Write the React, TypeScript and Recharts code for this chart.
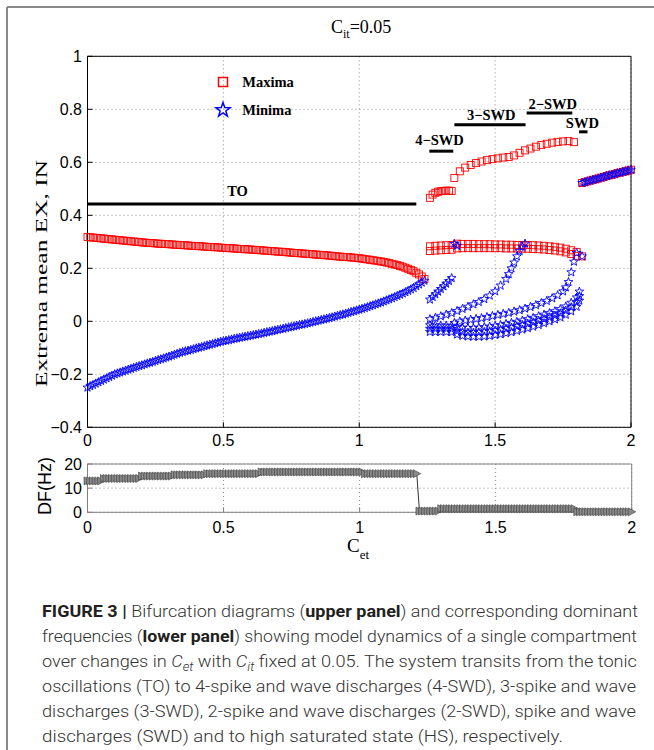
import React from 'react';
import {
  ScatterChart,
  Scatter,
  LineChart,
  Line,
  XAxis,
  YAxis,
  CartesianGrid,
  ReferenceLine,
  Legend,
} from 'recharts';

// ---------------- data ----------------
const xTicks = [0, 0.5, 1, 1.5, 2];
const yTicksTop = [-0.4, -0.2, 0, 0.2, 0.4, 0.6, 0.8, 1];
const yTicksDF = [0, 10, 20];

// tonic oscillations (TO)
const toX = [
  0, 0.01, 0.02, 0.03, 0.04, 0.05, 0.06, 0.07, 0.08, 0.09,
  0.1, 0.11, 0.12, 0.13, 0.14, 0.15, 0.16, 0.17, 0.18, 0.19,
  0.2, 0.21, 0.22, 0.23, 0.24, 0.25, 0.26, 0.27, 0.28, 0.29,
  0.3, 0.31, 0.32, 0.33, 0.34, 0.35, 0.36, 0.37, 0.38, 0.39,
  0.4, 0.41, 0.42, 0.43, 0.44, 0.45, 0.46, 0.47, 0.48, 0.49,
  0.5, 0.51, 0.52, 0.53, 0.54, 0.55, 0.56, 0.57, 0.58, 0.59,
  0.6, 0.61, 0.62, 0.63, 0.64, 0.65, 0.66, 0.67, 0.68, 0.69,
  0.7, 0.71, 0.72, 0.73, 0.74, 0.75, 0.76, 0.77, 0.78, 0.79,
  0.8, 0.81, 0.82, 0.83, 0.84, 0.85, 0.86, 0.87, 0.88, 0.89,
  0.9, 0.91, 0.92, 0.93, 0.94, 0.95, 0.96, 0.97, 0.98, 0.99,
  1, 1.01, 1.02, 1.03, 1.04, 1.05, 1.06, 1.07, 1.08, 1.09,
  1.1, 1.11, 1.12, 1.13, 1.14, 1.15, 1.16, 1.17, 1.18, 1.19,
  1.2, 1.21, 1.22, 1.23, 1.24,
];
const toMaxima = [
  0.318, 0.317, 0.316, 0.315, 0.314, 0.313, 0.312, 0.311, 0.31, 0.309,
  0.308, 0.307, 0.306, 0.305, 0.304, 0.303, 0.302, 0.301, 0.3, 0.299,
  0.298, 0.297, 0.296, 0.2955, 0.295, 0.294, 0.293, 0.2925, 0.292, 0.2915,
  0.291, 0.29, 0.289, 0.2885, 0.288, 0.2875, 0.287, 0.286, 0.285, 0.2845,
  0.284, 0.2835, 0.283, 0.282, 0.281, 0.2805, 0.28, 0.2795, 0.279, 0.278,
  0.277, 0.2765, 0.276, 0.2755, 0.275, 0.274, 0.273, 0.2725, 0.272, 0.2715,
  0.271, 0.27, 0.269, 0.2685, 0.268, 0.267, 0.266, 0.2655, 0.265, 0.264,
  0.263, 0.2625, 0.262, 0.261, 0.26, 0.259, 0.258, 0.2575, 0.257, 0.256,
  0.255, 0.2545, 0.254, 0.253, 0.252, 0.251, 0.25, 0.2495, 0.249, 0.248,
  0.247, 0.246, 0.245, 0.244, 0.243, 0.2425, 0.242, 0.241, 0.24, 0.239,
  0.238, 0.2365, 0.235, 0.2335, 0.232, 0.2305, 0.229, 0.2275, 0.226, 0.224,
  0.222, 0.2195, 0.217, 0.2145, 0.212, 0.209, 0.206, 0.202, 0.198, 0.1935,
  0.189, 0.183, 0.177, 0.169, 0.16,
];
const toMinima = [
  -0.25, -0.245, -0.24, -0.235, -0.23, -0.225, -0.22, -0.215, -0.21, -0.205,
  -0.2, -0.1965, -0.193, -0.1895, -0.186, -0.1825, -0.179, -0.1755, -0.172, -0.169,
  -0.166, -0.1625, -0.159, -0.156, -0.153, -0.1495, -0.146, -0.143, -0.14, -0.1365,
  -0.133, -0.1295, -0.126, -0.1225, -0.119, -0.116, -0.113, -0.1105, -0.108, -0.105,
  -0.102, -0.0995, -0.097, -0.094, -0.091, -0.0885, -0.086, -0.083, -0.08, -0.0775,
  -0.075, -0.073, -0.071, -0.0685, -0.066, -0.064, -0.062, -0.06, -0.058, -0.056,
  -0.054, -0.052, -0.05, -0.048, -0.046, -0.0435, -0.041, -0.039, -0.037, -0.0345,
  -0.032, -0.03, -0.028, -0.0255, -0.023, -0.021, -0.019, -0.0165, -0.014, -0.012,
  -0.01, -0.0075, -0.005, -0.0025, 0, 0.0025, 0.005, 0.0075, 0.01, 0.0125,
  0.015, 0.018, 0.021, 0.0235, 0.026, 0.029, 0.032, 0.035, 0.038, 0.041,
  0.044, 0.047, 0.05, 0.0535, 0.057, 0.0605, 0.064, 0.0675, 0.071, 0.075,
  0.079, 0.083, 0.087, 0.0915, 0.096, 0.1005, 0.105, 0.11, 0.115, 0.1205,
  0.126, 0.1325, 0.139, 0.146, 0.153,
];

// SWD regimes: shared x grid for the dense bands
const postX = [1.26, 1.28, 1.3, 1.32, 1.34, 1.36, 1.38, 1.4, 1.42, 1.44, 1.46, 1.48, 1.5, 1.52, 1.54, 1.56, 1.58, 1.6, 1.62, 1.64, 1.66, 1.68, 1.7, 1.72, 1.74, 1.76, 1.78, 1.8];
const maxBandUpper = [0.283, 0.285, 0.286, 0.287, 0.288, 0.293, 0.292, 0.292, 0.292, 0.291, 0.291, 0.291, 0.29, 0.29, 0.289, 0.289, 0.288, 0.288, 0.288, 0.287, 0.286, 0.285, 0.283, 0.281, 0.278, 0.274, 0.268, 0.262];
const maxBandLower = [0.265, 0.267, 0.268, 0.269, 0.27, 0.275, 0.276, 0.276, 0.276, 0.276, 0.276, 0.276, 0.276, 0.276, 0.275, 0.275, 0.275, 0.274, 0.274, 0.273, 0.272, 0.271, 0.269, 0.267, 0.264, 0.26, 0.254, 0.247];
const minBand1 = [-0.015, -0.015, -0.016, -0.016, -0.017, -0.022, -0.024, -0.025, -0.025, -0.024, -0.022, -0.02, -0.017, -0.014, -0.01, -0.006, -0.002, 0.003, 0.008, 0.013, 0.019, 0.025, 0.031, 0.038, 0.046, 0.056, 0.07, 0.09];
const minBand2 = [-0.028, -0.028, -0.028, -0.028, -0.029, -0.037, -0.041, -0.043, -0.043, -0.042, -0.04, -0.038, -0.035, -0.032, -0.028, -0.024, -0.019, -0.014, -0.009, -0.004, 0.002, 0.008, 0.015, 0.022, 0.03, 0.04, 0.053, 0.072];
const minBand3 = [-0.04, -0.04, -0.04, -0.04, -0.041, -0.05, -0.055, -0.057, -0.058, -0.058, -0.057, -0.055, -0.052, -0.049, -0.045, -0.041, -0.036, -0.031, -0.026, -0.02, -0.014, -0.007, 0, 0.007, 0.015, 0.025, 0.038, 0.055];

// upper maxima branches
const max4X = [1.26, 1.27, 1.28, 1.29, 1.3, 1.31, 1.32, 1.33, 1.34];
const max4Y = [0.466, 0.478, 0.485, 0.489, 0.491, 0.492, 0.493, 0.493, 0.492];
const max32X = [1.35, 1.37, 1.39, 1.41, 1.43, 1.45, 1.47, 1.49, 1.51, 1.53, 1.55, 1.57, 1.59, 1.61, 1.63, 1.65, 1.67, 1.69, 1.71, 1.73, 1.75, 1.77, 1.79];
const max32Y = [0.541, 0.566, 0.58, 0.59, 0.597, 0.603, 0.608, 0.612, 0.615, 0.618, 0.62, 0.626, 0.636, 0.645, 0.652, 0.659, 0.665, 0.67, 0.674, 0.677, 0.679, 0.68, 0.676];
const maxExtraX = [1.82];
const maxExtraY = [0.245];

// rising minima arcs
const arcAX = [1.26, 1.27, 1.28, 1.29, 1.3, 1.31, 1.32, 1.33, 1.34];
const arcAY = [0.082, 0.092, 0.102, 0.112, 0.122, 0.132, 0.142, 0.152, 0.163];
const arcBX = [1.26, 1.28, 1.3, 1.32, 1.34, 1.36, 1.38, 1.4, 1.42, 1.44, 1.46, 1.48, 1.5, 1.52, 1.54, 1.55, 1.56, 1.57, 1.58, 1.59, 1.6, 1.61];
const arcBY = [0.008, 0.013, 0.019, 0.025, 0.031, 0.039, 0.047, 0.055, 0.064, 0.073, 0.084, 0.097, 0.113, 0.135, 0.16, 0.178, 0.2, 0.222, 0.245, 0.265, 0.282, 0.293];
const arcCX = [1.35, 1.37, 1.39, 1.41, 1.43, 1.45, 1.47, 1.49, 1.51, 1.53, 1.55, 1.57, 1.59, 1.61, 1.63, 1.65, 1.67, 1.69, 1.71, 1.73, 1.75, 1.76, 1.77, 1.78, 1.79, 1.8];
const arcCY = [-0.006, -0.001, 0.003, 0.006, 0.009, 0.012, 0.016, 0.02, 0.024, 0.028, 0.032, 0.037, 0.042, 0.048, 0.054, 0.061, 0.069, 0.077, 0.087, 0.098, 0.113, 0.128, 0.148, 0.185, 0.225, 0.258];
const minExtraX = [1.35, 1.36, 1.81, 1.81, 1.81, 1.82];
const minExtraY = [0.292, 0.285, 0.112, 0.095, 0.078, 0.245];

// high saturated state (maxima = minima)
const hsX = [1.82, 1.83, 1.84, 1.85, 1.86, 1.87, 1.88, 1.89, 1.9, 1.91, 1.92, 1.93, 1.94, 1.95, 1.96, 1.97, 1.98, 1.99, 2];
const hsY = [0.522, 0.525, 0.528, 0.531, 0.534, 0.536, 0.539, 0.542, 0.545, 0.548, 0.551, 0.553, 0.556, 0.559, 0.561, 0.564, 0.566, 0.569, 0.572];

// regime bars and their labels
const segNames = ['TO', '4\u2212SWD', '3\u2212SWD', '2\u2212SWD', 'SWD'];
const segStart = [0, 1.258, 1.35, 1.616, 1.809];
const segEnd = [1.21, 1.346, 1.612, 1.784, 1.84];
const segY = [0.443, 0.642, 0.742, 0.786, 0.715];
const segLabelX = [0.552, 1.295, 1.486, 1.712, 1.821];
const segLabelY = [0.49, 0.686, 0.78, 0.82, 0.747];

const legendNames = ['Maxima', 'Minima'];

// dominant frequency (lower panel)
const dfX = [
  0, 0.01, 0.02, 0.03, 0.04, 0.05, 0.06, 0.07, 0.08, 0.09,
  0.1, 0.11, 0.12, 0.13, 0.14, 0.15, 0.16, 0.17, 0.18, 0.19,
  0.2, 0.21, 0.22, 0.23, 0.24, 0.25, 0.26, 0.27, 0.28, 0.29,
  0.3, 0.31, 0.32, 0.33, 0.34, 0.35, 0.36, 0.37, 0.38, 0.39,
  0.4, 0.41, 0.42, 0.43, 0.44, 0.45, 0.46, 0.47, 0.48, 0.49,
  0.5, 0.51, 0.52, 0.53, 0.54, 0.55, 0.56, 0.57, 0.58, 0.59,
  0.6, 0.61, 0.62, 0.63, 0.64, 0.65, 0.66, 0.67, 0.68, 0.69,
  0.7, 0.71, 0.72, 0.73, 0.74, 0.75, 0.76, 0.77, 0.78, 0.79,
  0.8, 0.81, 0.82, 0.83, 0.84, 0.85, 0.86, 0.87, 0.88, 0.89,
  0.9, 0.91, 0.92, 0.93, 0.94, 0.95, 0.96, 0.97, 0.98, 0.99,
  1, 1.01, 1.02, 1.03, 1.04, 1.05, 1.06, 1.07, 1.08, 1.09,
  1.1, 1.11, 1.12, 1.13, 1.14, 1.15, 1.16, 1.17, 1.18, 1.19,
  1.2, 1.21, 1.22, 1.23, 1.24, 1.25, 1.26, 1.27, 1.28, 1.29,
  1.3, 1.31, 1.32, 1.33, 1.34, 1.35, 1.36, 1.37, 1.38, 1.39,
  1.4, 1.41, 1.42, 1.43, 1.44, 1.45, 1.46, 1.47, 1.48, 1.49,
  1.5, 1.51, 1.52, 1.53, 1.54, 1.55, 1.56, 1.57, 1.58, 1.59,
  1.6, 1.61, 1.62, 1.63, 1.64, 1.65, 1.66, 1.67, 1.68, 1.69,
  1.7, 1.71, 1.72, 1.73, 1.74, 1.75, 1.76, 1.77, 1.78, 1.79,
  1.8, 1.81, 1.82, 1.83, 1.84, 1.85, 1.86, 1.87, 1.88, 1.89,
  1.9, 1.91, 1.92, 1.93, 1.94, 1.95, 1.96, 1.97, 1.98, 1.99,
  2,
];
const dfY = [
  13, 13, 13, 13, 13, 13, 14, 14, 14, 14,
  14, 14, 14, 14, 14, 14, 14, 14, 14, 14,
  15, 15, 15, 15, 15, 15, 15, 15, 15, 15,
  15, 15, 15.5, 15.5, 15.5, 15.5, 15.5, 15.5, 15.5, 15.5,
  15.5, 15.5, 15.5, 15.5, 16, 16, 16, 16, 16, 16,
  16, 16, 16, 16, 16, 16, 16, 16, 16, 16,
  16, 16, 16, 16, 16.7, 16.7, 16.7, 16.7, 16.7, 16.7,
  16.7, 16.7, 16.7, 16.7, 16.7, 16.7, 16.7, 16.7, 16.7, 16.7,
  16.7, 16.7, 16.7, 16.7, 16.7, 16.7, 16.7, 16.7, 16.7, 16.7,
  16.7, 16.7, 16.7, 16.7, 16.7, 16.7, 16.7, 16.7, 16.7, 16.7,
  16.7, 16.7, 16, 16, 16, 16, 16, 16, 16, 16,
  16, 16, 16, 16, 16, 16, 16, 16, 16, 16,
  16, 16, 0.5, 0.5, 0.5, 0.5, 0.5, 0.5, 0.5, 0.5,
  1.5, 1.5, 1.5, 1.5, 1.5, 1.5, 1.5, 1.5, 1.5, 1.5,
  1.5, 1.5, 1.5, 1.5, 1.5, 1.5, 1.5, 1.5, 1.5, 1.5,
  1.5, 1.5, 1.5, 1.5, 1.5, 1.5, 1.5, 1.5, 1.5, 1.5,
  1.5, 1.5, 1.5, 1.5, 1.5, 1.5, 1.5, 1.5, 1.5, 1.5,
  1.5, 1.5, 1.5, 1.5, 1.5, 1.5, 1.5, 1.5, 1.5, 1.5,
  0.2, 0.2, 0.2, 0.2, 0.2, 0.2, 0.2, 0.2, 0.2, 0.2,
  0.2, 0.2, 0.2, 0.2, 0.2, 0.2, 0.2, 0.2, 0.2, 0.2,
  0.2,
];

// ---------------- helpers ----------------
const SANS = '"Liberation Sans", Arial, Helvetica, sans-serif';
const SERIF = '"Liberation Serif", "Times New Roman", Times, serif';
const RED = '#ff0000';
const BLUE = '#0000ff';

const zip = (xs: number[], ys: number[]) => xs.map((x, i) => ({ x, y: ys[i] }));

const fmt = (v: number) => String(v).replace('-', '\u2212');

function starPath(cx: number, cy: number, R: number, r: number) {
  let d = '';
  for (let i = 0; i < 10; i++) {
    const rad = i % 2 === 0 ? R : r;
    const a = -Math.PI / 2 + (i * Math.PI) / 5;
    d += (i === 0 ? 'M' : 'L') + (cx + rad * Math.cos(a)).toFixed(2) + ',' + (cy + rad * Math.sin(a)).toFixed(2);
  }
  return d + 'Z';
}

const SquareShape = (p: any) => {
  if (p.cx == null || p.cy == null) return <g />;
  return <rect x={p.cx - 3.5} y={p.cy - 3.5} width={7} height={7} fill="none" stroke={RED} strokeWidth={0.9} />;
};
const StarShape = (p: any) => {
  if (p.cx == null || p.cy == null) return <g />;
  return <path d={starPath(p.cx, p.cy, 4.6, 1.9)} fill="none" stroke={BLUE} strokeWidth={0.9} />;
};
const SegLabelShape = (p: any) => {
  if (p.cx == null || p.cy == null) return <g />;
  return (
    <text x={p.cx} y={p.cy} textAnchor="middle" dominantBaseline="central" fontFamily={SERIF} fontWeight="bold" fontSize={14.5} fill="#000">
      {p.payload.label}
    </text>
  );
};
const TriDot = (p: any) => {
  if (p.cx == null || p.cy == null) return <g key={p.key} />;
  const { cx, cy } = p;
  return (
    <path key={p.key} d={`M${cx - 3.5},${cy - 4}L${cx + 4},${cy}L${cx - 3.5},${cy + 4}Z`} fill="#8a8a8a" stroke="#3a3a3a" strokeWidth={0.6} />
  );
};

const LegendBox = () => (
  <div style={{ width: 130 }}>
    {legendNames.map((n, i) => (
      <div key={n} style={{ display: 'flex', alignItems: 'center', height: 27.7 }}>
        <svg width={20} height={20} style={{ display: 'block' }}>
          {i === 0 ? (
            <rect x={5.5} y={5.5} width={9} height={9} fill="none" stroke={RED} strokeWidth={1.5} />
          ) : (
            <path d={starPath(10, 10, 7.5, 3)} fill="none" stroke={BLUE} strokeWidth={1.5} />
          )}
        </svg>
        <span style={{ marginLeft: 9.6, fontFamily: SERIF, fontWeight: 'bold', fontSize: 14.5, color: '#000' }}>{n}</span>
      </div>
    ))}
  </div>
);

const YLabelTop = () => (
  <text
    x={41}
    y={273.5}
    transform="rotate(-90 41 273.5)"
    textAnchor="middle"
    dominantBaseline="central"
    fontFamily={SERIF}
    fontSize={17.5}
    fill="#000"
    textLength={227}
    lengthAdjust="spacingAndGlyphs"
  >
    Extrema mean EX, IN
  </text>
);

const YLabelDF = () => (
  <text x={45} y={46} transform="rotate(-90 45 46)" textAnchor="middle" dominantBaseline="central" fontFamily={SANS} fontSize={18} fill="#000">
    DF(Hz)
  </text>
);

const XLabelDF = () => (
  <text x={347} y={112} fontFamily={SERIF} fill="#000">
    <tspan fontSize={19}>C</tspan>
    <tspan fontSize={13} dy={7}>et</tspan>
  </text>
);

const tickStyle = { fill: '#000', fontSize: 16, fontFamily: SANS };

export default function App() {
  const segLabelData = segNames.map((label, i) => ({ x: segLabelX[i], y: segLabelY[i], label }));
  const dfData = zip(dfX, dfY);

  return (
    <div style={{ position: 'absolute', left: 0, top: 0, width: 654, height: 750, background: '#fff', overflow: 'hidden' }}>
      <svg width={654} height={750} style={{ position: 'absolute', left: 0, top: 0 }}>
        <line x1={7} y1={7} x2={654} y2={7} stroke="#8a8a8a" strokeWidth={2} />
        <line x1={7} y1={7} x2={7} y2={750} stroke="#8a8a8a" strokeWidth={2} />
        <text x={331} y={33} fontFamily={SERIF} fill="#000">
          <tspan fontSize={18}>C</tspan>
          <tspan fontSize={12} dy={5}>it</tspan>
          <tspan fontSize={18} dy={-5}>=0.05</tspan>
        </text>
        <g fontFamily='Roboto, "Liberation Sans", Arial, sans-serif' fontSize={16.5} fill="#333333" fontWeight={300}>
          <text x={42} y={617} textLength={596} lengthAdjust="spacingAndGlyphs">
            <tspan fontWeight={700} fill="#231f20">FIGURE 3 | </tspan>
            <tspan>Bifurcation diagrams (</tspan>
            <tspan fontWeight={700} fill="#231f20">upper panel</tspan>
            <tspan>) and corresponding dominant</tspan>
          </text>
          <text x={42} y={642} textLength={595} lengthAdjust="spacingAndGlyphs">
            <tspan>frequencies (</tspan>
            <tspan fontWeight={700} fill="#231f20">lower panel</tspan>
            <tspan>) showing model dynamics of a single compartment</tspan>
          </text>
          <text x={42} y={667} textLength={595} lengthAdjust="spacingAndGlyphs">
            <tspan>over changes in </tspan>
            <tspan fontStyle="italic">C</tspan>
            <tspan fontStyle="italic" fontSize={12} dy={4}>et</tspan>
            <tspan dy={-4}> with </tspan>
            <tspan fontStyle="italic">C</tspan>
            <tspan fontStyle="italic" fontSize={12} dy={4}>it</tspan>
            <tspan dy={-4}> fixed at 0.05. The system transits from the tonic</tspan>
          </text>
          <text x={42} y={692} textLength={594} lengthAdjust="spacingAndGlyphs">
            oscillations (TO) to 4-spike and wave discharges (4-SWD), 3-spike and wave
          </text>
          <text x={42} y={717} textLength={594} lengthAdjust="spacingAndGlyphs">
            discharges (3-SWD), 2-spike and wave discharges (2-SWD), spike and wave
          </text>
          <text x={42} y={742} textLength={521} lengthAdjust="spacingAndGlyphs">
            discharges (SWD) and to high saturated state (HS), respectively.
          </text>
        </g>
      </svg>

      <div style={{ position: 'absolute', left: 0, top: 0 }}>
        <ScatterChart width={654} height={455} margin={{ top: 0, right: 0, bottom: 0, left: 0 }}>
          <CartesianGrid strokeDasharray="1 3" stroke="#8c8c8c" />
          <XAxis
            xAxisId={0}
            type="number"
            dataKey="x"
            domain={[0, 2]}
            ticks={xTicks}
            interval={0}
            height={27.7}
            tickSize={-5}
            tickMargin={12.7}
            axisLine={{ stroke: '#000' }}
            tickLine={{ stroke: '#000' }}
            tick={tickStyle}
            tickFormatter={fmt}
          />
          <XAxis
            xAxisId="top"
            orientation="top"
            type="number"
            dataKey="x"
            domain={[0, 2]}
            ticks={xTicks}
            interval={0}
            height={56.3}
            tickSize={-5}
            tick={false}
            axisLine={{ stroke: '#000' }}
            tickLine={{ stroke: '#000' }}
          />
          <YAxis
            yAxisId={0}
            type="number"
            dataKey="y"
            domain={[-0.4, 1]}
            ticks={yTicksTop}
            interval={0}
            width={87.5}
            tickSize={-5}
            tickMargin={10.5}
            axisLine={{ stroke: '#000' }}
            tickLine={{ stroke: '#000' }}
            tick={tickStyle}
            tickFormatter={fmt}
            label={{ content: YLabelTop }}
          />
          <YAxis
            yAxisId="right"
            orientation="right"
            type="number"
            dataKey="y"
            domain={[-0.4, 1]}
            ticks={yTicksTop}
            interval={0}
            width={23}
            tickSize={-5}
            tick={false}
            axisLine={{ stroke: '#000' }}
            tickLine={{ stroke: '#000' }}
          />
          {segStart.map((s, i) => (
            <ReferenceLine
              key={'seg' + i}
              segment={[
                { x: s, y: segY[i] },
                { x: segEnd[i], y: segY[i] },
              ]}
              stroke="#000"
              strokeWidth={3}
            />
          ))}
          <Legend
            layout="vertical"
            align="center"
            verticalAlign="middle"
            content={LegendBox}
            wrapperStyle={{ position: 'absolute', left: 212.7, top: 68.5, width: 130 }}
          />
          <Scatter name="Maxima" data={zip(toX, toMaxima)} shape={SquareShape} isAnimationActive={false} />
          <Scatter name="Maxima band 1" data={zip(postX, maxBandUpper)} shape={SquareShape} isAnimationActive={false} legendType="none" />
          <Scatter name="Maxima band 2" data={zip(postX, maxBandLower)} shape={SquareShape} isAnimationActive={false} legendType="none" />
          <Scatter name="Maxima 4-SWD" data={zip(max4X, max4Y)} shape={SquareShape} isAnimationActive={false} legendType="none" />
          <Scatter name="Maxima 3/2-SWD" data={zip(max32X, max32Y)} shape={SquareShape} isAnimationActive={false} legendType="none" />
          <Scatter name="Maxima extra" data={zip(maxExtraX, maxExtraY)} shape={SquareShape} isAnimationActive={false} legendType="none" />
          <Scatter name="Maxima HS" data={zip(hsX, hsY)} shape={SquareShape} isAnimationActive={false} legendType="none" />
          <Scatter name="Minima" data={zip(toX, toMinima)} shape={StarShape} isAnimationActive={false} />
          <Scatter name="Minima band 1" data={zip(postX, minBand1)} shape={StarShape} isAnimationActive={false} legendType="none" />
          <Scatter name="Minima band 2" data={zip(postX, minBand2)} shape={StarShape} isAnimationActive={false} legendType="none" />
          <Scatter name="Minima band 3" data={zip(postX, minBand3)} shape={StarShape} isAnimationActive={false} legendType="none" />
          <Scatter name="Minima arc A" data={zip(arcAX, arcAY)} shape={StarShape} isAnimationActive={false} legendType="none" />
          <Scatter name="Minima arc B" data={zip(arcBX, arcBY)} shape={StarShape} isAnimationActive={false} legendType="none" />
          <Scatter name="Minima arc C" data={zip(arcCX, arcCY)} shape={StarShape} isAnimationActive={false} legendType="none" />
          <Scatter name="Minima extra" data={zip(minExtraX, minExtraY)} shape={StarShape} isAnimationActive={false} legendType="none" />
          <Scatter name="Minima HS" data={zip(hsX, hsY)} shape={StarShape} isAnimationActive={false} legendType="none" />
          <Scatter name="labels" data={segLabelData} shape={SegLabelShape} isAnimationActive={false} legendType="none" />
        </ScatterChart>
      </div>

      <div style={{ position: 'absolute', left: 0, top: 440 }}>
        <LineChart width={654} height={130} data={dfData} margin={{ top: 0, right: 0, bottom: 0, left: 0 }}>
          <CartesianGrid strokeDasharray="1 3" stroke="#8c8c8c" />
          <XAxis
            xAxisId={0}
            type="number"
            dataKey="x"
            domain={[0, 2]}
            ticks={xTicks}
            interval={0}
            height={57.7}
            tickSize={-5}
            tickMargin={14.7}
            axisLine={{ stroke: '#808080' }}
            tickLine={{ stroke: '#808080' }}
            tick={tickStyle}
            tickFormatter={fmt}
            label={{ content: XLabelDF }}
          />
          <XAxis
            xAxisId="top"
            orientation="top"
            type="number"
            dataKey="x"
            domain={[0, 2]}
            ticks={xTicks}
            interval={0}
            height={24}
            tickSize={-5}
            tick={false}
            axisLine={{ stroke: '#808080' }}
            tickLine={{ stroke: '#808080' }}
          />
          <YAxis
            yAxisId={0}
            type="number"
            domain={[0, 20]}
            ticks={yTicksDF}
            interval={0}
            width={87.5}
            tickSize={-5}
            tickMargin={10.5}
            axisLine={{ stroke: '#808080' }}
            tickLine={{ stroke: '#808080' }}
            tick={tickStyle}
            label={{ content: YLabelDF }}
          />
          <YAxis
            yAxisId="right"
            orientation="right"
            type="number"
            domain={[0, 20]}
            ticks={yTicksDF}
            interval={0}
            width={22.3}
            tickSize={-5}
            tick={false}
            axisLine={{ stroke: '#808080' }}
            tickLine={{ stroke: '#808080' }}
          />
          <Line type="linear" dataKey="y" stroke="#333" strokeWidth={1} dot={TriDot} isAnimationActive={false} />
        </LineChart>
      </div>
    </div>
  );
}
